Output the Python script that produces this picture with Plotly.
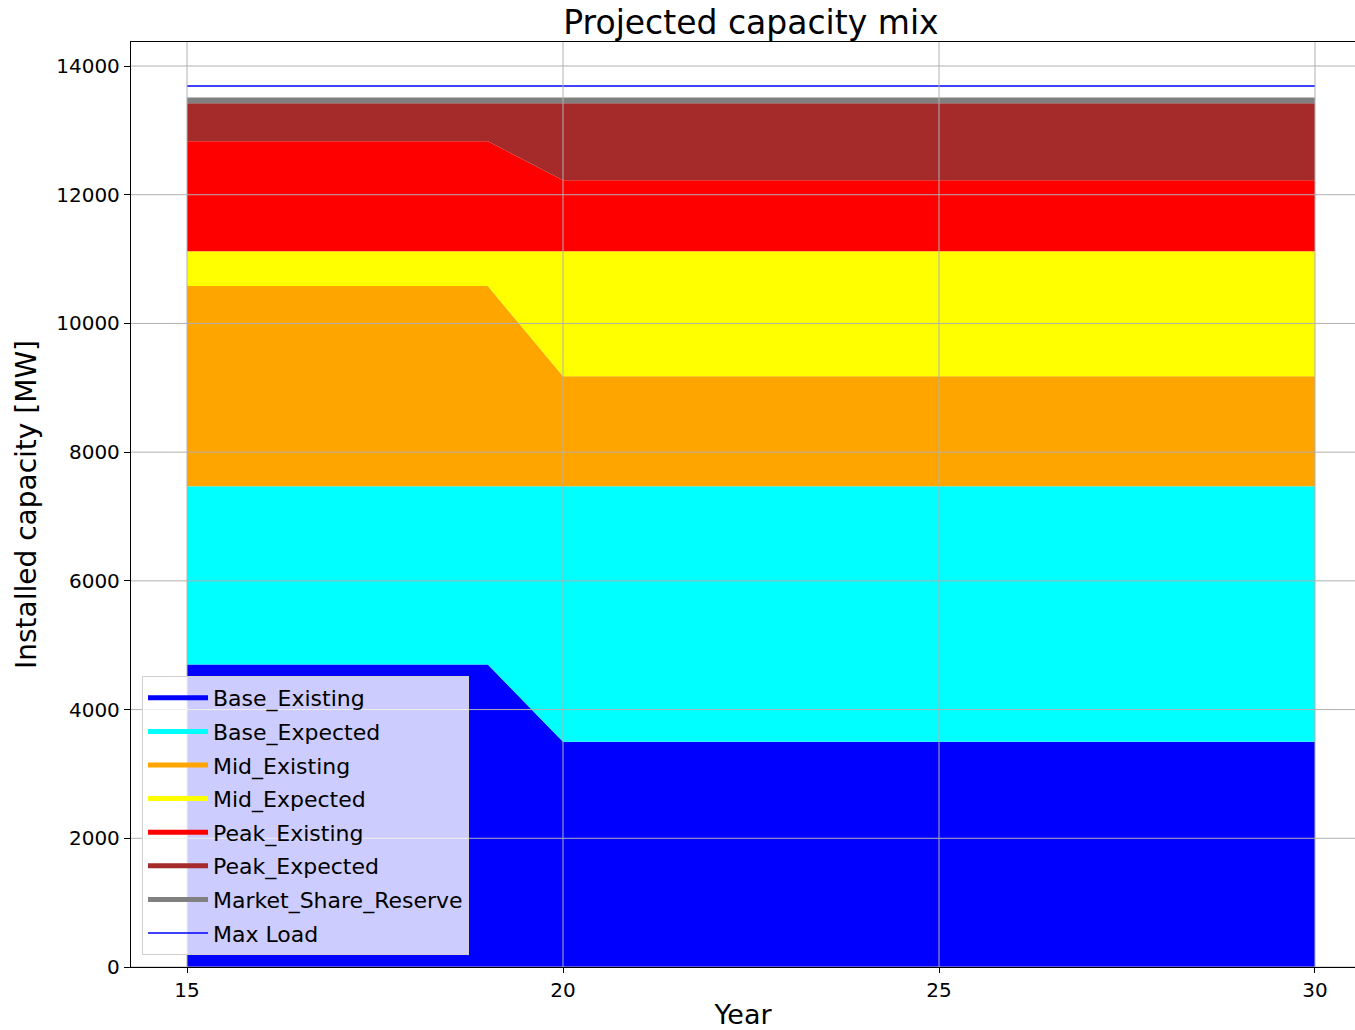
import plotly.graph_objects as go

years = [15, 16, 17, 18, 19, 20, 21, 22, 23, 24, 25, 26, 27, 28, 29, 30]

base_existing = [4700, 4700, 4700, 4700, 4700, 3500, 3500, 3500, 3500, 3500, 3500, 3500, 3500, 3500, 3500, 3500]
base_expected = [2770, 2770, 2770, 2770, 2770, 3970, 3970, 3970, 3970, 3970, 3970, 3970, 3970, 3970, 3970, 3970]
mid_existing = [3110, 3110, 3110, 3110, 3110, 1710, 1710, 1710, 1710, 1710, 1710, 1710, 1710, 1710, 1710, 1710]
mid_expected = [540, 540, 540, 540, 540, 1940, 1940, 1940, 1940, 1940, 1940, 1940, 1940, 1940, 1940, 1940]
peak_existing = [1710, 1710, 1710, 1710, 1710, 1105, 1105, 1105, 1105, 1105, 1105, 1105, 1105, 1105, 1105, 1105]
peak_expected = [590, 590, 590, 590, 590, 1195, 1195, 1195, 1195, 1195, 1195, 1195, 1195, 1195, 1195, 1195]
market_share_reserve = [90, 90, 90, 90, 90, 90, 90, 90, 90, 90, 90, 90, 90, 90, 90, 90]
max_load = [13690, 13690, 13690, 13690, 13690, 13690, 13690, 13690, 13690, 13690, 13690, 13690, 13690, 13690, 13690, 13690]

series_names = ["Base_Existing", "Base_Expected", "Mid_Existing", "Mid_Expected",
                "Peak_Existing", "Peak_Expected", "Market_Share_Reserve"]
series_values = [base_existing, base_expected, mid_existing, mid_expected,
                 peak_existing, peak_expected, market_share_reserve]
series_colors = ["#0000ff", "#00ffff", "#ffa500", "#ffff00", "#ff0000", "#a52a2a", "#808080"]

x_ticks = [15, 20, 25, 30]
y_ticks = [0, 2000, 4000, 6000, 8000, 10000, 12000, 14000]

FONT = "DejaVu Sans"

fig = go.Figure()

for name, vals, col in zip(series_names, series_values, series_colors):
    fig.add_trace(go.Scatter(
        x=years, y=vals, name=name, stackgroup="cap", mode="lines",
        line=dict(width=0, color=col), fillcolor=col, showlegend=False,
        hoverinfo="skip"))

fig.add_trace(go.Scatter(
    x=years, y=max_load, name="Max Load", mode="lines",
    line=dict(color="#0000ff", width=1.6), showlegend=False))

# legend entries (thick line handles like the original)
for i, (name, col) in enumerate(zip(series_names, series_colors)):
    fig.add_trace(go.Scatter(
        x=[None], y=[None], name=name, mode="lines",
        line=dict(color=col, width=5), legendgroup="g%d" % i))
fig.add_trace(go.Scatter(
    x=[None], y=[None], name="Max Load", mode="lines",
    line=dict(color="#0000ff", width=1.6), legendgroup="g_ml"))

shapes = []
for xv in x_ticks:
    shapes.append(dict(type="line", xref="x", yref="paper", x0=xv, x1=xv, y0=0, y1=1,
                       line=dict(color="#b0b0b0", width=1), layer="above"))
for yv in y_ticks:
    shapes.append(dict(type="line", xref="paper", yref="y", x0=0, x1=1, y0=yv, y1=yv,
                       line=dict(color="#b0b0b0", width=1), layer="above"))

fig.update_layout(
    width=1355, height=1030,
    margin=dict(l=131, r=0, t=42, b=63),
    paper_bgcolor="white", plot_bgcolor="white",
    font=dict(family=FONT, color="black", size=20),
    title=dict(text="Projected capacity mix", font=dict(family=FONT, size=33, color="black"),
               x=0.5065, xref="paper", xanchor="center",
               y=1 - 22 / 1030, yref="container", yanchor="middle"),
    shapes=shapes,
    legend=dict(x=0.009, y=0.013, xanchor="left", yanchor="bottom",
                bgcolor="rgba(255,255,255,0.8)", bordercolor="#d0d0d0", borderwidth=1,
                font=dict(family=FONT, size=22, color="black"),
                traceorder="grouped", tracegroupgap=2, itemwidth=60),
    xaxis=dict(range=[14.255, 30.532], tickvals=x_ticks, ticktext=[str(v) for v in x_ticks],
               showgrid=False, zeroline=False, showline=True, linecolor="black", linewidth=1.3,
               mirror=True, ticks="outside", ticklen=5, tickwidth=1.3, tickcolor="black",
               tickfont=dict(family=FONT, size=20),
               title=dict(text="Year", font=dict(family=FONT, size=27), standoff=8)),
    yaxis=dict(range=[0, 14373], tickvals=y_ticks, ticktext=[str(v) for v in y_ticks],
               showgrid=False, zeroline=False, showline=True, linecolor="black", linewidth=1.3,
               ticks="outside", ticklen=6, tickwidth=1.3, tickcolor="black",
               tickfont=dict(family=FONT, size=20),
               title=dict(text="Installed capacity [MW]", font=dict(family=FONT, size=28), standoff=11)),
)

fig.write_html("out.html", config={"displayModeBar": False},
               post_script="document.body.style.margin='0';")
